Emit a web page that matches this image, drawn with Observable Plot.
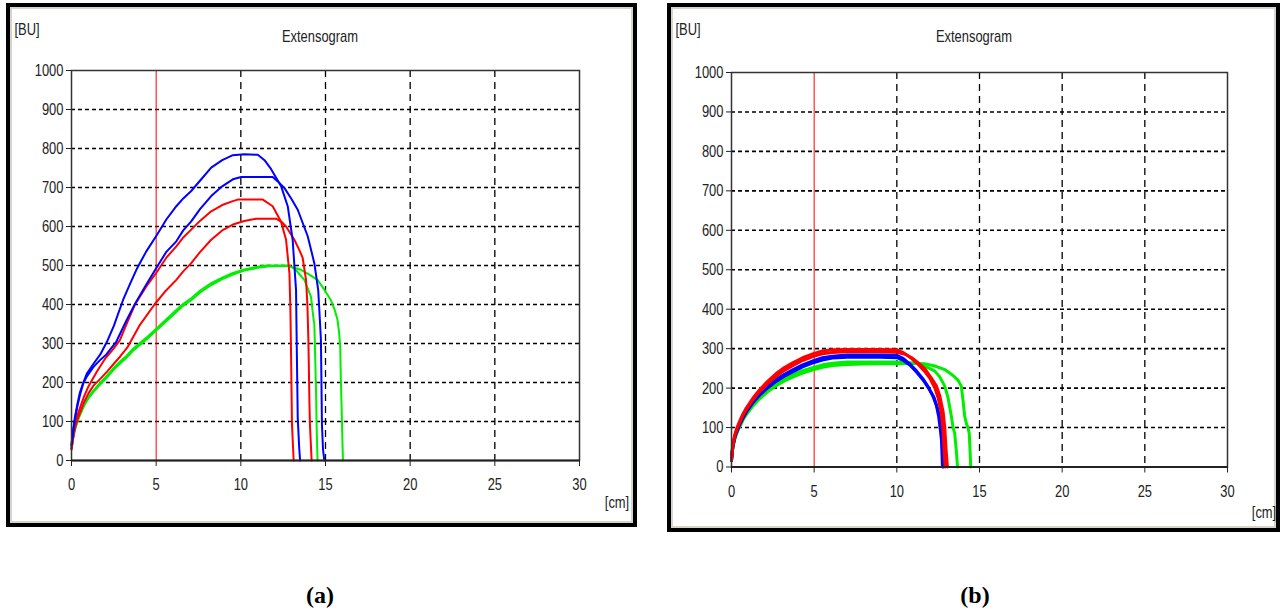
<!DOCTYPE html>
<html><head><meta charset="utf-8">
<script src="https://cdn.jsdelivr.net/npm/d3@7"></script>
<script src="https://cdn.jsdelivr.net/npm/@observablehq/plot@0.6"></script>
<style>
body{margin:0;background:#fff;width:1282px;height:613px;position:relative;overflow:hidden;font-family:"Liberation Sans",Arial,sans-serif;}
.panel{position:absolute;top:0;}
.frame{position:absolute;border:4px solid #000;box-sizing:border-box;box-shadow:inset 0 0 0 2px #d6d3cc;pointer-events:none;}
.lbl{position:absolute;font-size:17px;color:#222;white-space:nowrap;transform:translate(-50%,-50%) scaleX(0.76);}
.cap{position:absolute;font-family:"Liberation Serif","Times New Roman",serif;font-weight:bold;font-size:24px;color:#000;transform:translate(-50%,-50%);}
</style></head><body>
<div id="pa" class="panel" style="left:0"></div>
<div id="pb" class="panel" style="left:660px"></div>
<div class="frame" style="left:6px;top:3px;width:631px;height:524px"></div>
<div class="frame" style="left:667px;top:3px;width:613px;height:529px"></div>
<div class="lbl" style="left:27px;top:30px">[BU]</div>
<div class="lbl" style="left:320px;top:37px">Extensogram</div>
<div class="lbl" style="left:617px;top:503px">[cm]</div>
<div class="lbl" style="left:688px;top:30px">[BU]</div>
<div class="lbl" style="left:974px;top:37px">Extensogram</div>
<div class="lbl" style="left:1264px;top:513px">[cm]</div>
<div class="cap" style="left:320px;top:595px">(a)</div>
<div class="cap" style="left:975px;top:595px">(b)</div>
<script>
// ---- axis / grid values ----
const xTicks = [0, 5, 10, 15, 20, 25, 30];
const yTicks = [0, 100, 200, 300, 400, 500, 600, 700, 800, 900, 1000];
const yGrid = [100, 200, 300, 400, 500, 600, 700, 800, 900];
const xGrid = [10, 15, 20, 25];
const xMarker = [5];

// ---- panel (a) series: [cm, BU] ----
const aBlue1 = [[0,40],[0.1,80],[0.2,110],[0.35,145],[0.5,175],[0.7,200],[0.9,222],[1.3,248],[1.7,272],[2.1,305],[2.5,345],[3.04,411],[3.45,452],[3.83,489],[4.4,535],[5.05,579],[5.6,618],[6.19,652],[6.6,672],[7.07,691],[7.6,718],[8.25,751],[8.9,770],[9.53,783],[10.2,785],[11.0,784],[11.4,770],[11.79,747],[12.37,704],[12.77,652],[13.06,566],[13.26,437],[13.3,300],[13.36,110],[13.45,30],[13.5,0]];
const aBlue2 = [[0,38],[0.1,75],[0.2,105],[0.35,140],[0.5,168],[0.7,198],[0.9,215],[1.3,240],[1.7,258],[2.06,272],[2.65,305],[3.2,355],[3.73,400],[4.4,450],[5.1,500],[5.6,535],[6.19,562],[6.6,590],[7.07,613],[7.6,645],[8.25,678],[8.9,703],[9.53,721],[10.02,727],[11.88,727],[12.2,715],[12.57,699],[13.0,670],[13.36,643],[13.95,575],[14.34,506],[14.57,437],[14.68,350],[14.73,308],[14.79,93],[14.85,30],[14.93,0]];
const aRed1 = [[0,30],[0.1,62],[0.2,90],[0.35,115],[0.5,135],[0.75,165],[1.0,190],[1.5,228],[2.0,262],[2.45,285],[2.85,308],[3.3,355],[3.75,400],[4.4,445],[5.05,484],[5.6,520],[6.19,549],[6.6,572],[7.07,592],[7.6,615],[8.25,639],[8.9,655],[9.53,665],[9.82,669],[11.3,669],[11.88,652],[12.37,613],[12.67,566],[12.87,480],[12.93,380],[12.96,291],[13.02,93],[13.12,0]];
const aRed2 = [[0,28],[0.1,58],[0.2,82],[0.35,105],[0.5,122],[0.75,150],[1.0,172],[1.3,192],[1.67,208],[2.1,228],[2.5,248],[2.9,268],[3.3,290],[4.0,345],[4.9,400],[5.5,432],[6.19,463],[6.6,485],[7.07,506],[7.6,535],[8.25,566],[8.9,590],[9.53,605],[10.2,614],[10.9,620],[12.08,620],[12.4,612],[12.67,600],[13.16,566],[13.45,540],[13.65,520],[13.85,463],[13.93,400],[13.99,308],[14.05,150],[14.08,93],[14.18,0]];
const aGreen1 = [[0,32],[0.1,60],[0.2,82],[0.35,103],[0.5,120],[0.75,145],[1.0,163],[1.3,180],[1.67,198],[2.1,218],[2.5,238],[2.9,255],[3.24,268],[3.6,285],[4.0,300],[4.5,318],[5.05,340],[5.6,362],[6.19,386],[6.6,402],[7.07,416],[7.6,436],[8.25,455],[8.9,469],[9.53,481],[10.2,490],[11.0,497],[11.5,500],[12.77,500],[13.16,493],[13.75,463],[14.14,420],[14.3,360],[14.34,351],[14.4,250],[14.44,179],[14.48,80],[14.53,0]];
const aGreen2 = [[0,30],[0.1,57],[0.2,78],[0.35,99],[0.5,116],[0.75,141],[1.0,159],[1.3,176],[1.67,194],[2.1,213],[2.5,233],[2.9,250],[3.24,263],[3.6,280],[4.0,295],[4.5,313],[5.05,335],[5.6,357],[6.19,381],[6.6,397],[7.07,411],[7.6,431],[8.25,450],[8.9,465],[9.53,477],[10.2,487],[11.0,494],[11.7,498],[12.8,499],[13.55,489],[14.0,478],[14.53,463],[14.9,440],[15.32,411],[15.55,385],[15.71,360],[15.8,330],[15.87,291],[15.9,220],[15.95,136],[16.0,50],[16.03,0]];

// ---- panel (b) series: [cm, BU] ----
const bRed1 = [[0,20],[0.05,45],[0.1,62],[0.2,82],[0.3,96],[0.5,117],[0.7,135],[0.9,150],[1.3,175],[1.7,196],[2.2,218],[2.7,237],[3.2,252],[3.7,264],[4.3,277],[5.0,288],[5.5,294],[6.1,297],[7,298],[8,298],[9,298],[10,297],[10.4,290],[10.86,276],[11.3,260],[11.67,243],[12.0,225],[12.3,200],[12.5,175],[12.7,135],[12.8,90],[12.85,50],[12.92,0]];
const bRed2 = [[0,18],[0.05,42],[0.1,59],[0.2,79],[0.3,93],[0.5,113],[0.7,131],[0.9,146],[1.3,171],[1.7,191],[2.2,212],[2.7,230],[3.2,245],[3.7,257],[4.3,270],[5.0,281],[5.5,287],[6.1,290],[7,292],[8,292],[9,292],[10,291],[10.5,286],[10.9,277],[11.3,264],[11.7,249],[12.1,225],[12.4,205],[12.6,180],[12.8,140],[12.9,100],[12.97,50],[13.06,0]];
const bBlue1 = [[0,18],[0.05,42],[0.1,58],[0.2,77],[0.3,90],[0.5,110],[0.7,128],[0.9,143],[1.3,167],[1.7,186],[2.2,205],[2.7,222],[3.2,235],[3.7,246],[4.3,259],[5.0,270],[5.5,277],[6.1,281],[7,284],[8,284],[9,284],[10,283],[10.4,275],[10.76,262],[11.2,243],[11.57,224],[11.9,203],[12.18,180],[12.4,155],[12.53,128],[12.63,95],[12.7,68],[12.76,0]];
const bBlue2 = [[0,16],[0.05,40],[0.1,55],[0.2,74],[0.3,87],[0.5,107],[0.7,124],[0.9,139],[1.3,163],[1.7,182],[2.2,201],[2.7,217],[3.2,230],[3.7,241],[4.3,254],[5.0,265],[5.5,271],[6.1,276],[7,278],[8,278],[9,278],[10,277],[10.4,270],[10.8,258],[11.2,240],[11.6,220],[11.95,198],[12.25,176],[12.45,150],[12.6,125],[12.7,95],[12.75,65],[12.82,0]];
const bGreen1 = [[0,18],[0.05,40],[0.1,55],[0.2,73],[0.3,86],[0.5,106],[0.7,123],[0.9,137],[1.3,160],[1.7,178],[2.2,197],[2.7,212],[3.2,224],[3.7,234],[4.3,244],[5.0,253],[5.5,259],[6.1,263],[7,266],[8,266],[9,266],[10,266],[10.6,265],[11.27,262],[11.8,254],[12.3,243],[12.6,228],[12.9,205],[13.1,175],[13.3,128],[13.4,100],[13.5,85],[13.6,40],[13.67,0]];
const bGreen2 = [[0,16],[0.05,38],[0.1,53],[0.2,70],[0.3,83],[0.5,102],[0.7,119],[0.9,133],[1.3,155],[1.7,173],[2.2,191],[2.7,206],[3.2,218],[3.7,228],[4.3,238],[5.0,247],[5.5,253],[6.1,257],[7,260],[8,261],[9,262],[10,262],[11,263],[11.67,262],[12.3,256],[12.9,247],[13.4,232],[13.7,220],[13.9,205],[14.0,170],[14.1,130],[14.2,111],[14.3,100],[14.38,85],[14.43,40],[14.47,0]];

const FONT = '"Liberation Sans",Arial,sans-serif';
const BLUE = "#0000ff", RED = "#ff0000", GREEN = "#00ee00";

function panel(series, lw, opts) {
  const lines = series.map(([data, color]) => Plot.line(data, {x: d => d[0], y: d => d[1], stroke: color, strokeWidth: lw, strokeLinejoin: "round"}));
  return Plot.plot({
    width: opts.width, height: opts.height,
    marginLeft: opts.ml, marginRight: opts.mr, marginTop: opts.mt, marginBottom: opts.mb,
    style: {fontFamily: FONT, fontSize: "17px", color: "#222", background: "transparent", overflow: "visible"},
    x: {domain: [0, 30]},
    y: {domain: [0, 1000]},
    marks: [
      Plot.ruleY(yGrid, {stroke: "#000", strokeWidth: 1.6, strokeDasharray: "4,3"}),
      Plot.ruleX(xGrid, {stroke: "#000", strokeWidth: 1.3, strokeDasharray: "7,5"}),
      Plot.ruleX(xMarker, {stroke: "#ff0000", strokeWidth: 1}),
      ...lines,
      Plot.frame({stroke: "#333", strokeWidth: 1.5}),
      Plot.ruleY([0], {stroke: "#222", strokeWidth: 2}),
      Plot.axisY({ticks: yTicks, tickSize: 5, tickPadding: 3, tickFormat: d => String(d), label: null, fontSize: 17}),
      Plot.axisX({ticks: xTicks, tickSize: 6, tickPadding: opts.xpad, tickFormat: d => String(d), label: null, fontSize: 17})
    ]
  });
}

function narrow(svg) {
  svg.querySelectorAll("text").forEach(t => {
    const w = t.getComputedTextLength();
    if (w > 0) {
      t.setAttribute("textLength", (w * 0.76).toFixed(2));
      t.setAttribute("lengthAdjust", "spacingAndGlyphs");
    }
  });
}

const svgA = panel(
  [[aGreen2, GREEN], [aGreen1, GREEN], [aRed2, RED], [aRed1, RED], [aBlue2, BLUE], [aBlue1, BLUE]], 2,
  {width: 640, height: 540, ml: 71, mr: 61, mt: 70, mb: 80, xpad: 11});
document.getElementById("pa").appendChild(svgA);
narrow(svgA);
const svgB = panel(
  [[bGreen2, GREEN], [bGreen1, GREEN], [bBlue2, BLUE], [bBlue1, BLUE], [bRed2, RED], [bRed1, RED]], 3,
  {width: 622, height: 540, ml: 71, mr: 55, mt: 72, mb: 73.5, xpad: 12});
document.getElementById("pb").appendChild(svgB);
narrow(svgB);
</script>
</body></html>
